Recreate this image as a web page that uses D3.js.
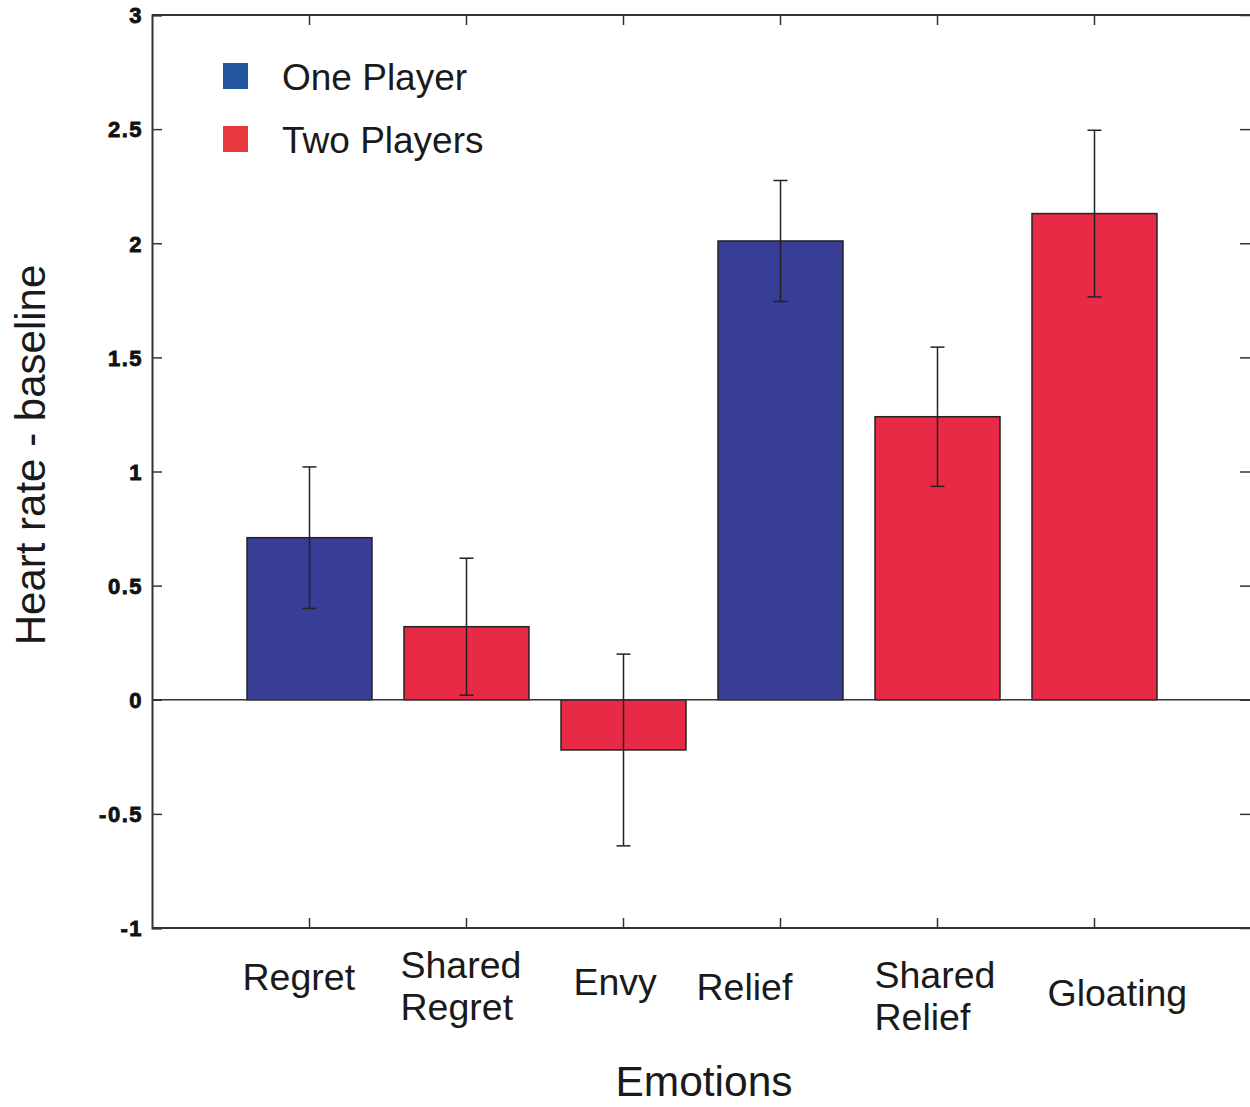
<!DOCTYPE html>
<html>
<head>
<meta charset="utf-8">
<script src="https://cdn.jsdelivr.net/npm/d3@7"></script>
<style>
  body { margin: 0; background: #fff; }
  svg { display: block; font-family: "Liberation Sans", Arial, sans-serif; }
</style>
</head>
<body>
<div id="chart"></div>
<script>
// data
var categories = ["Regret", "Shared Regret", "Envy", "Relief", "Shared Relief", "Gloating"];
var groups = ["One Player", "Two Players", "Two Players", "One Player", "Two Players", "Two Players"];
var values = [0.71, 0.32, -0.22, 2.01, 1.24, 2.13];
var errors = [0.31, 0.30, 0.42, 0.265, 0.305, 0.365];
var yTicks = [-1, -0.5, 0, 0.5, 1, 1.5, 2, 2.5, 3];
var legendNames = ["One Player", "Two Players"];

var W = 1250, H = 1107;
var plotL = 152, plotT = 15, plotR = 1252, plotB = 928;

var svg = d3.select("#chart").append("svg")
  .attr("width", W)
  .attr("height", H);

var x = d3.scaleBand()
  .domain(categories)
  .range([231, 1173])
  .paddingInner(0.204)
  .paddingOuter(0.102);

var y = d3.scaleLinear()
  .domain([-1, 3])
  .range([plotB, plotT]);

var barColor = d3.scaleOrdinal()
  .domain(legendNames)
  .range(["#383d96", "#e92a47"]);
var legendColor = d3.scaleOrdinal()
  .domain(legendNames)
  .range(["#2456a0", "#e8393f"]);

//frame lines
var axisColor = "#333";
svg.append("line").attr("x1", plotL).attr("x2", plotR).attr("y1", plotT).attr("y2", plotT)
  .attr("stroke", axisColor).attr("stroke-width", 2);
svg.append("line").attr("x1", plotL).attr("x2", plotR).attr("y1", plotB).attr("y2", plotB)
  .attr("stroke", axisColor).attr("stroke-width", 2);

// bars
svg.selectAll("rect.bar")
  .data(values)
  .enter()
  .append("rect")
  .attr("class", "bar")
  .attr("x", function(d, i){ return x(categories[i]); })
  .attr("y", function(d){ return y(Math.max(0, d)); })
  .attr("width", x.bandwidth())
  .attr("height", function(d){ return Math.abs(y(d) - y(0)); })
  .attr("fill", function(d, i){ return barColor(groups[i]); })
  .attr("stroke", "#222")
  .attr("stroke-width", 1.5);

// zero line
svg.append("line").attr("x1", plotL).attr("x2", plotR).attr("y1", y(0)).attr("y2", y(0))
  .attr("stroke", axisColor).attr("stroke-width", 1.5);

// error bars
var eb = svg.selectAll("g.err")
  .data(values)
  .enter()
  .append("g")
  .attr("class", "err")
  .attr("stroke", "#222")
  .attr("stroke-width", 1.5);
eb.append("line")
  .attr("x1", function(d, i){ return x(categories[i]) + x.bandwidth() / 2; })
  .attr("x2", function(d, i){ return x(categories[i]) + x.bandwidth() / 2; })
  .attr("y1", function(d, i){ return y(d + errors[i]); })
  .attr("y2", function(d, i){ return y(d - errors[i]); });
[1, -1].forEach(function(s){
  eb.append("line")
    .attr("x1", function(d, i){ return x(categories[i]) + x.bandwidth() / 2 - 7; })
    .attr("x2", function(d, i){ return x(categories[i]) + x.bandwidth() / 2 + 7; })
    .attr("y1", function(d, i){ return y(d + s * errors[i]); })
    .attr("y2", function(d, i){ return y(d + s * errors[i]); });
});

// left axis, ticks pointing inward
var yAxis = svg.append("g")
  .attr("transform", "translate(" + plotL + ",0)")
  .call(d3.axisRight(y).tickValues(yTicks).tickSize(10).tickFormat(""));
yAxis.select(".domain").attr("stroke", axisColor).attr("stroke-width", 2);
yAxis.selectAll(".tick line").attr("stroke", axisColor).attr("stroke-width", 1.5);

svg.selectAll("text.ylab")
  .data(yTicks)
  .enter()
  .append("text")
  .attr("class", "ylab")
  .attr("x", plotL - 9)
  .attr("y", function(d){ return y(d); })
  .attr("dy", "0.38em")
  .attr("text-anchor", "end")
  .attr("font-size", "22px")
  .attr("font-weight", "900")
  .attr("letter-spacing", "1.5px")
  .attr("fill", "#111")
  .attr("stroke", "#111")
  .attr("stroke-width", 0.8)
  .text(function(d){ return String(d); });

// right side ticks
var yAxisR = svg.append("g")
  .attr("transform", "translate(" + 1250 + ",0)")
  .call(d3.axisLeft(y).tickValues(yTicks).tickSize(10).tickFormat(""));
yAxisR.select(".domain").remove();
yAxisR.selectAll(".tick line").attr("stroke", axisColor).attr("stroke-width", 1.5);

// top and bottom ticks at category centres
var xTop = svg.append("g")
  .attr("transform", "translate(0," + plotT + ")")
  .call(d3.axisBottom(x).tickSize(10).tickFormat(""));
xTop.select(".domain").remove();
xTop.selectAll(".tick line").attr("stroke", axisColor).attr("stroke-width", 1.5);

var xBot = svg.append("g")
  .attr("transform", "translate(0," + plotB + ")")
  .call(d3.axisTop(x).tickSize(10).tickFormat(""));
xBot.select(".domain").remove();
xBot.selectAll(".tick line").attr("stroke", axisColor).attr("stroke-width", 1.5);

// category labels (placement nudges per label)
var labelNudge = [[-67, 0], [-66, 9], [-50, 5], [-84, 10], [-63, 19], [-47, 16]];
var catLabels = svg.selectAll("text.cat")
  .data(categories)
  .enter()
  .append("text")
  .attr("class", "cat")
  .attr("font-size", "37.5px")
  .attr("fill", "#1a1a1a")
  .attr("transform", function(d, i){
    return "translate(" + (x(d) + x.bandwidth() / 2 + labelNudge[i][0]) + "," + (990 + labelNudge[i][1]) + ")";
  });
catLabels.each(function(d){
  var words = d.split(" ");
  var t = d3.select(this);
  words.forEach(function(w, k){
    t.append("tspan")
      .attr("x", 0)
      .attr("y", (k - (words.length - 1) / 2) * 42)
      .text(w);
  });
});

// axis titles
svg.append("text")
  .attr("x", 704)
  .attr("y", 1096)
  .attr("text-anchor", "middle")
  .attr("font-size", "42.5px")
  .attr("fill", "#1a1a1a")
  .text("Emotions");

svg.append("text")
  .attr("transform", "translate(45,455) rotate(-90)")
  .attr("text-anchor", "middle")
  .attr("font-size", "42px")
  .attr("fill", "#1a1a1a")
  .text("Heart rate - baseline");

// legend
var legend = svg.selectAll("g.legend")
  .data(legendNames)
  .enter()
  .append("g")
  .attr("class", "legend")
  .attr("transform", function(d, i){ return "translate(223," + (63 + i * 63) + ")"; });
legend.append("rect")
  .attr("width", 25)
  .attr("height", 26)
  .attr("fill", function(d){ return legendColor(d); });
legend.append("text")
  .attr("x", 59)
  .attr("y", 14)
  .attr("dy", "0.36em")
  .attr("font-size", "37px")
  .attr("fill", "#1a1a1a")
  .text(function(d){ return d; });
</script>
</body>
</html>
